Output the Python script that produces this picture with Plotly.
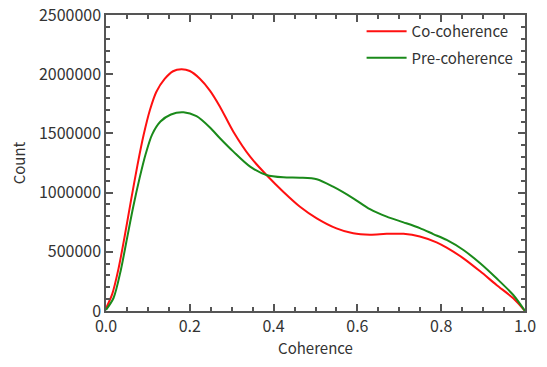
import plotly.graph_objects as go

coherence_co = [0.0, 0.015, 0.03, 0.045, 0.06, 0.075, 0.09, 0.105, 0.12, 0.14, 0.16, 0.18, 0.2,
                0.224, 0.248, 0.272, 0.304, 0.344, 0.383, 0.423, 0.463, 0.503, 0.55, 0.59,
                0.63, 0.67, 0.71, 0.749, 0.789, 0.813, 0.853, 0.893, 0.932, 0.972, 1.0]
count_co = [23000, 145000, 360000, 640000, 940000, 1230000, 1490000, 1700000, 1850000, 1960000,
            2025000, 2041000, 2027000, 1962000, 1862000, 1726000, 1514000, 1303000, 1149000,
            1008000, 881000, 783000, 698000, 656000, 645000, 652000, 652000, 630000, 580000,
            535000, 445000, 335000, 220000, 107000, 0]

coherence_pre = [0.0, 0.018, 0.035, 0.05, 0.065, 0.08, 0.095, 0.11, 0.13, 0.155, 0.185, 0.216,
                 0.248, 0.272, 0.304, 0.344, 0.383, 0.423, 0.463, 0.503, 0.542, 0.59, 0.63,
                 0.67, 0.71, 0.749, 0.781, 0.813, 0.853, 0.893, 0.932, 0.972, 1.0]
count_pre = [10000, 110000, 340000, 610000, 880000, 1120000, 1330000, 1490000, 1600000, 1660000,
             1678000, 1645000, 1550000, 1459000, 1346000, 1219000, 1149000, 1129000, 1126000,
             1113000, 1050000, 952000, 860000, 797000, 749000, 700000, 650000, 600000,
             515000, 403000, 276000, 135000, 0]

x_ticks = [0.0, 0.2, 0.4, 0.6, 0.8, 1.0]
x_ticklabels = ["0.0", "0.2", "0.4", "0.6", "0.8", "1.0"]
y_ticks = [0, 500000, 1000000, 1500000, 2000000, 2500000]
y_ticklabels = ["0", "500000", "1000000", "1500000", "2000000", "2500000"]

FONT = "Noto Sans CJK JP"
AXC = "#555555"

fig = go.Figure()
fig.add_trace(go.Scatter(x=coherence_co, y=count_co, mode="lines", name="Co-coherence",
                         legendgroup="a",
                         line=dict(color="#ff1010", width=2, shape="spline", smoothing=0.8)))
fig.add_trace(go.Scatter(x=coherence_pre, y=count_pre, mode="lines", name="Pre-coherence",
                         legendgroup="b",
                         line=dict(color="#1a8a1a", width=2, shape="spline", smoothing=0.8)))

fig.update_layout(
    width=547, height=367,
    margin=dict(l=106, r=22, t=15, b=56, autoexpand=False),
    paper_bgcolor="white", plot_bgcolor="white",
    font=dict(family=FONT, size=15, color="#333333"),
    showlegend=True,
    legend=dict(x=0.61, y=1.0, xanchor="left", yanchor="top", bgcolor="rgba(0,0,0,0)",
                font=dict(family=FONT, size=15, color="#333333"), itemwidth=40,
                tracegroupgap=4, traceorder="grouped"),
)
fig.update_xaxes(
    range=[0, 1], tickvals=x_ticks, ticktext=x_ticklabels, automargin=False,
    showgrid=False, zeroline=False, showline=True, linecolor=AXC, linewidth=1.5,
    mirror="allticks", ticks="inside", ticklen=7, tickcolor=AXC, tickwidth=1.5,
    minor=dict(dtick=0.05, ticks="inside", ticklen=4, tickcolor=AXC, showgrid=False),
    title=dict(text="Coherence", font=dict(family=FONT, size=15), standoff=3),
    tickfont=dict(family=FONT, size=16), ticklabeloverflow="allow",
)
fig.update_yaxes(
    range=[0, 2500000], tickvals=y_ticks, ticktext=y_ticklabels, automargin=False,
    showgrid=False, zeroline=False, showline=True, linecolor=AXC, linewidth=1.5,
    mirror="allticks", ticks="inside", ticklen=7, tickcolor=AXC, tickwidth=1.5,
    minor=dict(dtick=100000, ticks="inside", ticklen=4, tickcolor=AXC, showgrid=False),
    title=dict(text="Count", font=dict(family=FONT, size=15), standoff=10),
    tickfont=dict(family=FONT, size=16), ticklabeloverflow="allow",
)

# remove the browser's default 8px body margin so the figure fills the window exactly
fig.write_html("out.html", config={"displayModeBar": False},
               post_script="document.body.style.margin='0px';")
